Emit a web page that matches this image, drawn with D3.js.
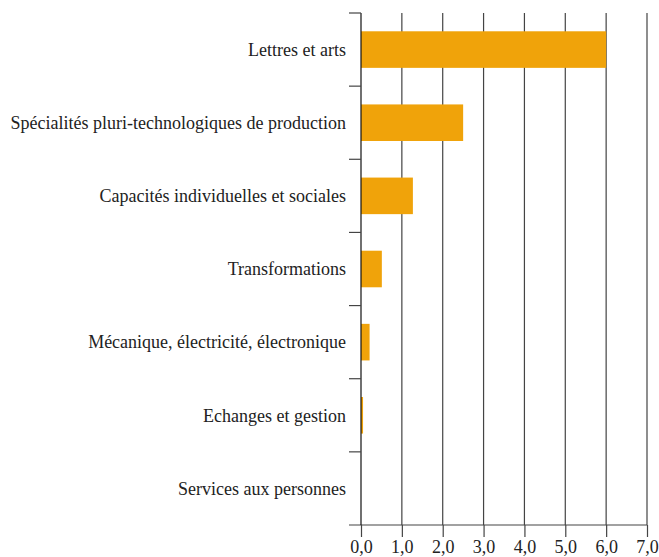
<!DOCTYPE html>
<html>
<head>
<meta charset="utf-8">
<script src="https://cdn.jsdelivr.net/npm/d3@7"></script>
</head>
<body style="margin:0">
<div id="main"></div>
<script>
const categories = [
  "Lettres et arts",
  "Spécialités pluri-technologiques de production",
  "Capacités individuelles et sociales",
  "Transformations",
  "Mécanique, électricité, électronique",
  "Echanges et gestion",
  "Services aux personnes"
];
const values = [6.0, 2.5, 1.27, 0.51, 0.21, 0.05, 0.0];
const xTicks = [0, 1, 2, 3, 4, 5, 6, 7];

const width = 659;
const height = 557;
const margin = { top: 13, right: 12, bottom: 32, left: 361 };
const fontSize = 18;

const svg = d3
  .select("#main")
  .append("svg")
  .attr("width", width)
  .attr("height", height)
  .attr("font-family", "Liberation Serif")
  .attr("font-size", fontSize);

const xScale = d3.scaleLinear().domain([0, 7]).range([margin.left, width - margin.right]);
const yScale = d3
  .scaleBand()
  .domain(categories)
  .range([margin.top, height - margin.bottom])
  .paddingInner(0.5)
  .paddingOuter(0.25);

const bottom = height - margin.bottom;
const lineColor = "#444";

// vertical grid lines
svg
  .append("g")
  .selectAll("line")
  .data(xTicks.slice(1))
  .enter()
  .append("line")
  .attr("x1", (d) => xScale(d))
  .attr("x2", (d) => xScale(d))
  .attr("y1", margin.top)
  .attr("y2", bottom)
  .attr("stroke", lineColor)
  .attr("stroke-width", 1.2);

// bars
svg
  .append("g")
  .selectAll("rect")
  .data(values)
  .enter()
  .append("rect")
  .attr("x", xScale(0))
  .attr("y", (d, i) => yScale(categories[i]))
  .attr("width", (d) => xScale(d) - xScale(0))
  .attr("height", yScale.bandwidth())
  .attr("fill", "#F0A30A");

// x axis
const xAxis = d3
  .axisBottom(xScale)
  .tickValues(xTicks)
  .tickFormat((d) => d3.format(".1f")(d).replace(".", ","))
  .tickSize(12)
  .tickSizeOuter(0);

const gx = svg
  .append("g")
  .attr("transform", `translate(0, ${bottom})`)
  .call(xAxis)
  .attr("font-family", null)
  .attr("font-size", null);
gx.select(".domain").remove();
gx.selectAll(".tick line").attr("stroke", lineColor).attr("stroke-width", 1.2);
gx.selectAll(".tick text").attr("y", 15).attr("fill", "#222");
gx.append("line")
  .attr("x1", xScale(0) - 12)
  .attr("x2", xScale(7))
  .attr("y1", 0)
  .attr("y2", 0)
  .attr("stroke", lineColor)
  .attr("stroke-width", 1.2);

// y axis: line + separator ticks between categories
const step = yScale.step();
const boundaries = d3.range(categories.length + 1).map((i) => margin.top + i * step);
const gy = svg.append("g");
gy.append("line")
  .attr("x1", xScale(0))
  .attr("x2", xScale(0))
  .attr("y1", margin.top)
  .attr("y2", bottom)
  .attr("stroke", "#111")
  .attr("stroke-width", 1.2);
gy.selectAll("line.sep")
  .data(boundaries.slice(0, -1))
  .enter()
  .append("line")
  .attr("class", "sep")
  .attr("x1", xScale(0) - 12)
  .attr("x2", xScale(0))
  .attr("y1", (d) => d)
  .attr("y2", (d) => d)
  .attr("stroke", lineColor)
  .attr("stroke-width", 1.2);

gy.selectAll("text")
  .data(categories)
  .enter()
  .append("text")
  .attr("x", xScale(0) - 15)
  .attr("y", (d) => yScale(d) + yScale.bandwidth() / 2)
  .attr("dy", "0.35em")
  .attr("text-anchor", "end")
  .attr("fill", "#222")
  .text((d) => d);
</script>
</body>
</html>
